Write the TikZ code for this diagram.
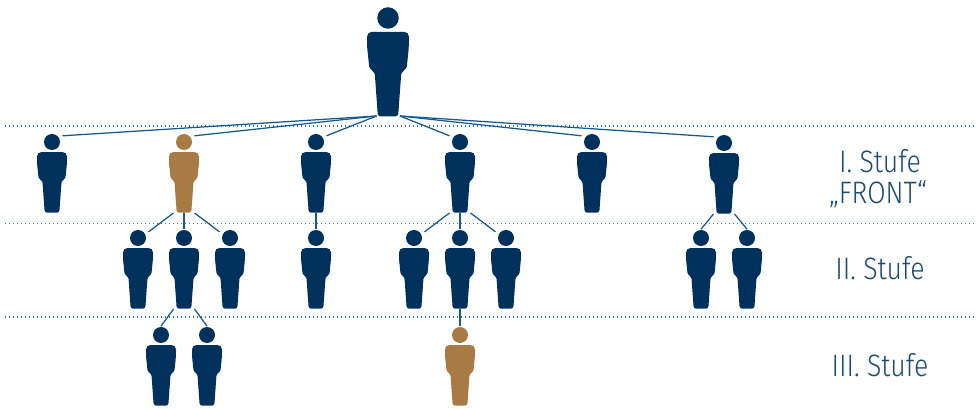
\documentclass[tikz,border=0pt]{standalone}
\usepackage{fontspec}
\setmainfont[FakeStretch=0.86]{Fira Sans Light}
\definecolor{navy}{HTML}{00305C}
\definecolor{bronze}{HTML}{A87B45}
\definecolor{linkblue}{HTML}{14598F}
\definecolor{dotblue}{HTML}{3A78A8}
\definecolor{labelblue}{HTML}{1B4A73}
\tikzset{
  link/.style={draw=linkblue,line width=1.25pt},
  level/.style={draw=dotblue,line width=1.4pt,dash pattern=on 1.4pt off 2.6pt},
  stufe/.style={text=labelblue,font=\fontsize{31}{31}\selectfont,anchor=base,inner sep=0pt}
}
% name, x, y of head centre, colour, scale, head diameter
\newcommand{\figperson}[6]{%
  \begin{scope}[shift={(#2,#3)},scale=#5]
    \fill[#4,rounded corners=4pt]
      (-7.3,70.7) [rounded corners=2.5pt] -- (7.3,70.7) [rounded corners=1pt] -- (9.5,40)
      -- (13.5,35.5) [rounded corners=4.5pt] -- (15,21) -- (15,10)
      -- (-15,10) [rounded corners=1pt] -- (-15,21) -- (-13.5,35.5) -- (-9.5,40) [rounded corners=2.5pt] -- (-7.3,70.7) -- cycle;
    \node[circle,inner sep=0pt,minimum size=#6pt,fill=#4] (#1) at (0,0) {};
    \coordinate (#1-ul) at (-10.5,-6.2);
    \coordinate (#1-u) at (0,-8.8);
    \coordinate (#1-ur) at (10.5,-6.2);
    \coordinate (#1-fl) at (-10.5,71);
    \coordinate (#1-f) at (0,71);
    \coordinate (#1-fr) at (10.5,71);
  \end{scope}}
\begin{document}
\begin{tikzpicture}[x=1pt,y=-1pt]
\useasboundingbox (0,0) rectangle (979,409);
% level lines
\coordinate (l1a) at (5,126); \coordinate (l1b) at (975,126);
\coordinate (l2a) at (5,223.5); \coordinate (l2b) at (975,223.5);
\coordinate (l3a) at (5,317); \coordinate (l3b) at (975,317);
\draw[level] (l1a) -- (l1b);
\draw[level] (l2a) -- (l2b);
\draw[level] (l3a) -- (l3b);
% people
\figperson{root}{388}{18}{navy}{1.39}{21.5}
\coordinate (root-l) at (376.5,116);
\coordinate (root-r) at (400,116);
\figperson{a1}{52}{142}{navy}{1}{16}
\figperson{a2}{184}{142}{bronze}{1}{16}
\figperson{a3}{316}{142}{navy}{1}{16}
\figperson{a4}{460}{142}{navy}{1}{16}
\figperson{a5}{592}{142}{navy}{1}{16}
\figperson{a6}{724}{143}{navy}{1}{16}
\figperson{b1}{138}{238}{navy}{1}{16}
\figperson{b2}{184}{238}{navy}{1}{16}
\figperson{b3}{230}{238}{navy}{1}{16}
\figperson{b4}{316}{238}{navy}{1}{16}
\figperson{b5}{414}{238}{navy}{1}{16}
\figperson{b6}{460}{238}{navy}{1}{16}
\figperson{b7}{506}{238}{navy}{1}{16}
\figperson{b8}{701}{238}{navy}{1}{16}
\figperson{b9}{747}{238}{navy}{1}{16}
\figperson{c1}{161}{335}{navy}{1}{16}
\figperson{c2}{207}{335}{navy}{1}{16}
\figperson{c3}{460}{335}{bronze}{1}{16}
% connectors
\draw[link] (root-l) -- (a1-ur);
\draw[link] (root-l) -- (a2-ur);
\draw[link] (root-l) -- (a3-ur);
\draw[link] (root-r) -- (a4-ul);
\draw[link] (root-r) -- (a5-ul);
\draw[link] (root-r) -- (a6-ul);
\draw[link] (a2-fl) -- (b1-ur);
\draw[link] (a2-f) -- (b2-u);
\draw[link] (a2-fr) -- (b3-ul);
\draw[link] (a3-f) -- (b4-u);
\draw[link] (a4-fl) -- (b5-ur);
\draw[link] (a4-f) -- (b6-u);
\draw[link] (a4-fr) -- (b7-ul);
\draw[link] (a6-fl) -- (b8-u);
\draw[link] (a6-fr) -- (b9-u);
\draw[link] (b2-fl) -- (c1-u);
\draw[link] (b2-fr) -- (c2-u);
\draw[link] (b6-f) -- (c3-u);
% labels
\node[stufe] (t1) at (880,172) {I. Stufe};
\node[stufe] (t2) at (878,203) {„FRONT“};
\node[stufe] (t3) at (880,279) {II. Stufe};
\node[stufe] (t4) at (880,376) {III. Stufe};
\end{tikzpicture}
\end{document}
